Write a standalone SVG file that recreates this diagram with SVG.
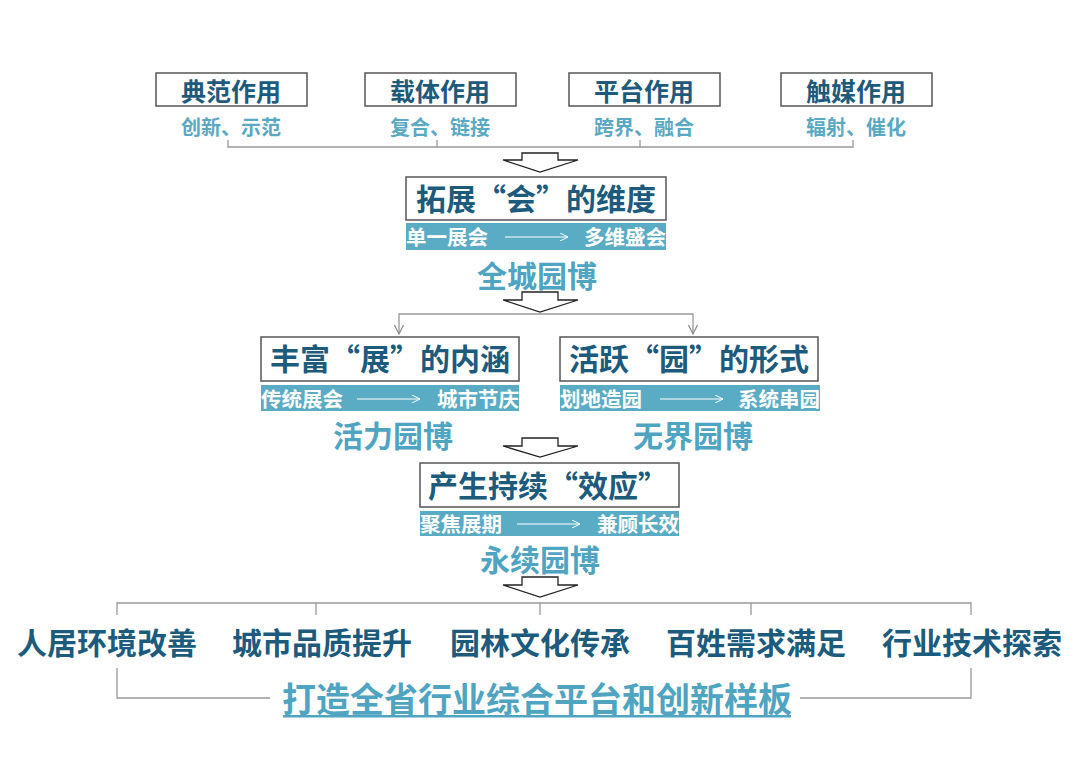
<svg xmlns="http://www.w3.org/2000/svg" width="1080" height="763" viewBox="0 0 1080 763">
<defs>
<style>
text{font-family:"Noto Sans CJK SC","Noto Sans",sans-serif;font-weight:700;text-anchor:middle;dominant-baseline:central}
.box{fill:#fff;stroke:#555;stroke-width:1.5}
.band{fill:#5aacc5}
.t1{fill:#1c5b7c;font-size:25px}
.t2{fill:#1c5b7c;font-size:30px}
.t3{fill:#1c5b7c;font-size:30px}
.sub{fill:#5aa9c3;font-size:20px}
.bt{fill:#fff;font-size:20.5px}
.big{fill:#4fa5c1;font-size:30px}
.goal{fill:#4fa5c1;font-size:34px}
.ln{fill:none;stroke:#999;stroke-width:1.3}
.vh{fill:none;stroke:#888;stroke-width:1.2}
.wl{stroke:#fff;stroke-width:1;fill:none}
.harrow{fill:#fff;stroke:#222;stroke-width:1.3;stroke-linejoin:miter}
</style>
<marker id="w" viewBox="0 0 10 10" refX="10" refY="5" markerWidth="8" markerHeight="8" markerUnits="userSpaceOnUse" orient="auto">
<path d="M0,0 L10,5 L0,10" fill="none" stroke="#fff" stroke-width="1.2"/>
</marker>
</defs>
<rect width="1080" height="763" fill="#fff"/>

<g id="connectors">
<path class="ln" d="M228,140 V147 H853 V140 M437,140 V147 M640,140 V147"/>
<path class="ln" d="M399,334 V314 H693 V334"/>
<path class="vh" d="M394.5,325 L399,334 L403.5,325 M688.5,325 L693,334 L697.5,325"/>
<path class="ln" d="M117,615 V603 H971 V615 M316,603 V615 M540,603 V615 M751,603 V615"/>
<path class="ln" d="M117,668 V698 H270 M800,698 H971 V668"/>
<polygon class="harrow" points="522,153 558,153 558,160 578,160 540,172 503,160 522,160"/>
<polygon class="harrow" points="522,292 558,292 558,300 578,300 540,312 503,300 522,300"/>
<polygon class="harrow" points="522,438 558,438 558,446 578,446 540,457 503,446 522,446"/>
<polygon class="harrow" points="522,577 558,577 558,585 578,585 540,597 503,585 522,585"/>
</g>

<g id="n-dianfan">
<rect class="box" x="156" y="73" width="151" height="33"/>
<text class="t1" x="231" y="90">典范作用</text>
<text class="sub" x="231" y="126">创新、示范</text>
</g>
<g id="n-zaiti">
<rect class="box" x="365" y="73" width="151" height="33"/>
<text class="t1" x="440" y="90">载体作用</text>
<text class="sub" x="440" y="126">复合、链接</text>
</g>
<g id="n-pingtai">
<rect class="box" x="569" y="73" width="151" height="33"/>
<text class="t1" x="644" y="90">平台作用</text>
<text class="sub" x="644" y="126">跨界、融合</text>
</g>
<g id="n-chumei">
<rect class="box" x="781" y="73" width="151" height="33"/>
<text class="t1" x="856" y="90">触媒作用</text>
<text class="sub" x="856" y="126">辐射、催化</text>
</g>

<g id="n-tuozhan">
<rect class="box" x="406" y="177" width="260" height="43"/>
<text class="t2" x="536" y="197">拓展“会”的维度</text>
<rect class="band" x="406" y="223" width="260" height="27"/>
<text class="bt" x="447" y="236">单一展会</text>
<text class="bt" x="625" y="236">多维盛会</text>
<line class="wl" x1="505" y1="237" x2="568" y2="237" marker-end="url(#w)"/>
<text class="big" x="537" y="274">全城园博</text>
</g>

<g id="n-fengfu">
<rect class="box" x="261" y="337" width="258" height="44"/>
<text class="t2" x="390" y="357">丰富“展”的内涵</text>
<rect class="band" x="261" y="385" width="258" height="26"/>
<text class="bt" x="302" y="398">传统展会</text>
<text class="bt" x="478" y="398">城市节庆</text>
<line class="wl" x1="357" y1="399" x2="420" y2="399" marker-end="url(#w)"/>
<text class="big" x="393" y="434">活力园博</text>
</g>

<g id="n-huoyue">
<rect class="box" x="560" y="337" width="258" height="44"/>
<text class="t2" x="689" y="357">活跃“园”的形式</text>
<rect class="band" x="560" y="385" width="260" height="26"/>
<text class="bt" x="601" y="398">划地造园</text>
<text class="bt" x="779" y="398">系统串园</text>
<line class="wl" x1="660" y1="399" x2="723" y2="399" marker-end="url(#w)"/>
<text class="big" x="693" y="434">无界园博</text>
</g>

<g id="n-chansheng">
<rect class="box" x="420" y="463" width="259" height="44"/>
<text class="t2" x="548" y="484">产生持续“效应”</text>
<rect class="band" x="420" y="511" width="259" height="25"/>
<text class="bt" x="461" y="523">聚焦展期</text>
<text class="bt" x="638" y="523">兼顾长效</text>
<line class="wl" x1="517" y1="524" x2="580" y2="524" marker-end="url(#w)"/>
<text class="big" x="540" y="558">永续园博</text>
</g>

<g id="n-r1"><text class="t3" x="107" y="641">人居环境改善</text></g>
<g id="n-r2"><text class="t3" x="322" y="641">城市品质提升</text></g>
<g id="n-r3"><text class="t3" x="540" y="641">园林文化传承</text></g>
<g id="n-r4"><text class="t3" x="756" y="641">百姓需求满足</text></g>
<g id="n-r5"><text class="t3" x="972" y="641">行业技术探索</text></g>

<g id="n-goal">
<text class="goal" x="537" y="697">打造全省行业综合平台和创新样板</text>
<rect x="283" y="715" width="508" height="2.5" fill="#4fa5c1"/>
</g>
</svg>
